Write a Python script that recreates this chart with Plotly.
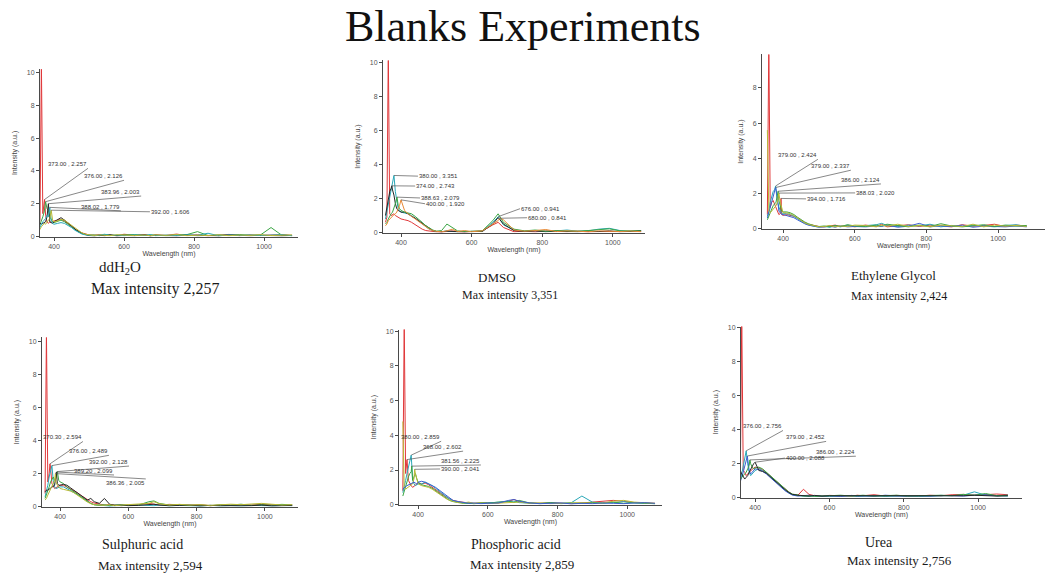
import plotly.graph_objects as go

W, H = 1045, 575

# Shared wavelength grid for all spectra (nm)
WL = [356, 360, 364, 368, 372, 376, 380, 384, 388, 392, 396, 400,
      410, 420, 430, 440, 450, 460, 470, 480, 490, 500,
      515, 530, 545, 560, 580, 600,
      630, 660, 675, 690, 720, 750, 780, 810, 840, 870, 900, 930, 960, 990, 1020, 1050, 1080]

# ---------------- ddH2O ----------------
ddh2o_series = [
    [0.6, 1.0, 10.6, 1.4, 2.0, 1.3, 0.9, 0.8, 0.9, 0.85, 0.9, 0.95,
     1.0, 1.05, 0.95, 0.8, 0.6, 0.45, 0.3, 0.22, 0.15, 0.1,
     0.08, 0.12, 0.06, 0.1, 0.05, 0.14,
     0.08, 0.12, 0.05, 0.1, 0.07, 0.15, 0.06, 0.11, 0.04, 0.09, 0.13, 0.05, 0.1, 0.06, 0.08, 0.12, 0.07],
    [0.5, 0.7, 0.9, 1.2, 1.5, 2.0, 1.7, 1.6, 1.2, 1.0, 0.9, 0.85,
     0.95, 1.0, 0.9, 0.75, 0.55, 0.4, 0.28, 0.18, 0.12, 0.08,
     0.1, 0.05, 0.12, 0.08, 0.06, 0.1,
     0.12, 0.06, 0.1, 0.08, 0.05, 0.1, 0.12, 0.3, 0.06, 0.1, 0.07, 0.12, 0.08, 0.1, 0.55, 0.09, 0.05],
    [0.7, 0.8, 0.75, 0.8, 0.85, 0.9, 1.2, 1.5, 0.9, 0.85, 0.8, 0.9,
     1.0, 1.15, 1.0, 0.85, 0.65, 0.45, 0.3, 0.2, 0.12, 0.06,
     0.04, 0.08, 0.05, 0.1, 0.04, 0.07,
     0.05, 0.1, 0.04, 0.08, 0.06, 0.04, 0.09, 0.05, 0.07, 0.04, 0.1, 0.06, 0.05, 0.08, 0.06, 0.04, 0.07],
    [0.4, 0.6, 0.8, 0.9, 1.0, 1.1, 1.3, 1.2, 1.5, 1.0, 0.8, 0.75,
     0.8, 0.85, 0.8, 0.7, 0.55, 0.38, 0.25, 0.15, 0.1, 0.07,
     0.05, 0.09, 0.14, 0.06, 0.1, 0.05,
     0.1, 0.07, 0.12, 0.05, 0.09, 0.06, 0.1, 0.08, 0.2, 0.05, 0.1, 0.07, 0.09, 0.06, 0.1, 0.12, 0.05],
    [0.3, 0.5, 0.6, 0.7, 0.8, 0.75, 0.9, 1.0, 1.1, 1.3, 1.0, 0.9,
     0.95, 1.05, 1.0, 0.85, 0.7, 0.5, 0.35, 0.22, 0.14, 0.09,
     0.06, 0.1, 0.07, 0.05, 0.11, 0.08,
     0.06, 0.09, 0.05, 0.1, 0.07, 0.12, 0.05, 0.08, 0.06, 0.1, 0.05, 0.09, 0.07, 0.11, 0.06, 0.08, 0.1],
]
ddh2o_peaks = [(0, 373.00, 2.257), (1, 376.00, 2.126), (2, 383.96, 2.003),
               (3, 388.02, 1.779), (4, 392.00, 1.606)]

# ---------------- DMSO ----------------
dmso_series = [
    [0.6, 0.9, 10.6, 1.1, 1.0, 1.05, 1.1, 1.0, 0.95, 0.9, 0.85, 0.8,
     0.75, 0.7, 0.6, 0.45, 0.3, 0.2, 0.12, 0.08, 0.05, 0.04,
     0.03, 0.05, 0.1, 0.05, 0.03, 0.06,
     0.1, 0.45, 0.6, 0.3, 0.05, 0.08, 0.04, 0.1, 0.06, 0.05, 0.08, 0.04, 0.06, 0.05, 0.07, 0.04, 0.06],
    [0.8, 1.2, 1.6, 2.2, 2.6, 3.0, 3.2, 2.4, 1.8, 1.4, 1.3, 1.2,
     1.15, 1.1, 1.0, 0.85, 0.7, 0.5, 0.35, 0.2, 0.12, 0.06,
     0.05, 0.1, 0.06, 0.04, 0.08, 0.05,
     0.08, 0.6, 0.9, 0.45, 0.15, 0.08, 0.12, 0.06, 0.1, 0.15, 0.08, 0.1, 0.2, 0.25, 0.12, 0.08, 0.1],
    [1.0, 1.5, 2.0, 2.4, 2.6, 2.5, 2.2, 1.7, 1.4, 1.3, 1.25, 1.2,
     1.2, 1.1, 0.95, 0.85, 0.7, 0.55, 0.38, 0.22, 0.12, 0.07,
     0.05, 0.08, 0.05, 0.06, 0.04, 0.07,
     0.06, 0.5, 0.88, 0.5, 0.12, 0.06, 0.1, 0.05, 0.08, 0.06, 0.05, 0.08, 0.06, 0.1, 0.05, 0.07, 0.12],
    [0.5, 0.6, 0.8, 1.0, 1.1, 1.2, 1.4, 1.7, 2.0, 1.6, 1.4, 1.3,
     1.2, 1.15, 1.1, 0.95, 0.8, 0.6, 0.4, 0.25, 0.15, 0.08,
     0.12, 0.5, 0.3, 0.1, 0.06, 0.09,
     0.1, 0.7, 1.1, 0.6, 0.2, 0.1, 0.15, 0.08, 0.12, 0.1, 0.08, 0.12, 0.15, 0.22, 0.1, 0.08, 0.1],
    [0.4, 0.5, 0.7, 0.8, 0.9, 1.0, 1.05, 1.1, 1.2, 1.4, 1.6, 1.8,
     1.3, 1.1, 0.95, 0.8, 0.6, 0.45, 0.3, 0.2, 0.12, 0.07,
     0.05, 0.1, 0.2, 0.06, 0.12, 0.05,
     0.1, 0.5, 0.7, 0.75, 0.15, 0.08, 0.12, 0.18, 0.06, 0.1, 0.08, 0.05, 0.1, 0.08, 0.06, 0.09, 0.05],
]
dmso_peaks = [(1, 380.00, 3.351), (2, 374.00, 2.743), (3, 388.63, 2.079),
              (4, 400.00, 1.920), (1, 676.00, 0.941), (4, 680.00, 0.841)]

# ---------------- Ethylene Glycol ----------------
eg_series = [
    [0.8, 10.6, 1.2, 1.5, 1.6, 1.4, 1.2, 0.9, 0.8, 0.85, 0.8, 0.75,
     0.8, 0.75, 0.7, 0.6, 0.45, 0.35, 0.25, 0.2, 0.15, 0.12,
     0.1, 0.15, 0.2, 0.12, 0.18, 0.1,
     0.2, 0.12, 0.25, 0.1, 0.18, 0.22, 0.12, 0.2, 0.15, 0.1, 0.22, 0.14, 0.18, 0.25, 0.12, 0.2, 0.15],
    [0.7, 1.0, 1.5, 1.8, 2.1, 2.2, 2.3, 1.5, 1.2, 1.0, 0.9, 0.85,
     0.85, 0.8, 0.7, 0.55, 0.4, 0.3, 0.22, 0.16, 0.12, 0.1,
     0.12, 0.08, 0.15, 0.1, 0.2, 0.12,
     0.15, 0.22, 0.3, 0.18, 0.12, 0.2, 0.15, 0.25, 0.1, 0.18, 0.12, 0.2, 0.15, 0.1, 0.18, 0.22, 0.12],
    [0.6, 0.9, 1.2, 1.6, 1.9, 2.1, 2.2, 1.8, 1.0, 0.9, 0.8, 0.8,
     0.75, 0.7, 0.62, 0.5, 0.38, 0.28, 0.2, 0.15, 0.1, 0.08,
     0.1, 0.14, 0.08, 0.16, 0.1, 0.12,
     0.1, 0.15, 0.12, 0.2, 0.08, 0.14, 0.3, 0.1, 0.16, 0.12, 0.2, 0.08, 0.14, 0.12, 0.1, 0.15, 0.1],
    [0.5, 0.7, 1.0, 1.2, 1.3, 1.4, 1.5, 1.9, 1.6, 1.2, 1.0, 0.95,
     0.95, 0.9, 0.8, 0.65, 0.5, 0.38, 0.28, 0.2, 0.15, 0.12,
     0.15, 0.1, 0.18, 0.12, 0.22, 0.15,
     0.12, 0.2, 0.15, 0.25, 0.18, 0.1, 0.2, 0.12, 0.28, 0.15, 0.1, 0.18, 0.22, 0.12, 0.2, 0.15, 0.18],
    [5.6, 1.0, 0.9, 1.0, 1.1, 1.2, 1.3, 1.5, 1.8, 1.5, 1.1, 0.9,
     0.9, 0.85, 0.75, 0.6, 0.45, 0.33, 0.24, 0.18, 0.13, 0.1,
     0.12, 0.18, 0.1, 0.15, 0.12, 0.2,
     0.18, 0.1, 0.2, 0.14, 0.25, 0.12, 0.18, 0.1, 0.2, 0.16, 0.12, 0.25, 0.1, 0.2, 0.14, 0.18, 0.12],
]
eg_peaks = [(1, 379.00, 2.424), (2, 379.00, 2.337), (3, 386.00, 2.124),
            (4, 388.03, 2.020), (0, 394.00, 1.716)]

# ---------------- Sulphuric acid ----------------
sulph_series = [
    [0.8, 10.6, 1.5, 2.0, 2.4, 1.4, 1.2, 1.1, 1.15, 1.2, 1.25, 1.3,
     1.3, 1.2, 1.1, 1.0, 0.85, 0.7, 0.55, 0.4, 0.3, 0.22,
     0.15, 0.1, 0.12, 0.08, 0.06, 0.1,
     0.12, 0.2, 0.15, 0.1, 0.14, 0.1, 0.08, 0.12, 0.06, 0.1, 0.08, 0.12, 0.1, 0.15, 0.12, 0.08, 0.1],
    [0.6, 0.9, 1.3, 1.8, 2.2, 2.3, 1.6, 1.2, 1.1, 1.15, 1.2, 1.2,
     1.2, 1.1, 1.0, 0.9, 0.75, 0.6, 0.45, 0.3, 0.2, 0.12,
     0.08, 0.05, 0.04, 0.06, 0.05, 0.08,
     0.1, 0.08, 0.06, 0.1, 0.05, 0.08, 0.06, 0.04, 0.08, 0.05, 0.07, 0.05, 0.08, 0.06, 0.05, 0.07, 0.06],
    [0.5, 0.7, 0.9, 1.2, 1.5, 1.7, 1.8, 1.6, 1.7, 1.9, 1.6, 1.5,
     1.4, 1.2, 1.05, 0.95, 0.8, 0.6, 0.45, 0.3, 0.2, 0.12,
     0.08, 0.12, 0.06, 0.1, 0.12, 0.08,
     0.1, 0.3, 0.35, 0.2, 0.1, 0.12, 0.08, 0.1, 0.06, 0.12, 0.1, 0.15, 0.08, 0.12, 0.1, 0.14, 0.1],
    [0.9, 1.0, 1.0, 1.05, 1.1, 1.15, 1.2, 1.3, 1.6, 1.4, 1.3, 1.3,
     1.35, 1.3, 1.15, 1.0, 0.85, 0.7, 0.55, 0.4, 0.5, 0.3,
     0.2, 0.5, 0.15, 0.08, 0.1, 0.06,
     0.08, 0.12, 0.15, 0.1, 0.06, 0.08, 0.1, 0.05, 0.08, 0.06, 0.05, 0.08, 0.06, 0.1, 0.05, 0.06, 0.08],
    [0.4, 0.5, 0.7, 0.9, 1.0, 1.2, 1.4, 1.6, 1.5, 1.3, 1.2, 1.1,
     1.05, 1.0, 0.95, 0.85, 0.7, 0.55, 0.4, 0.28, 0.18, 0.12,
     0.1, 0.08, 0.12, 0.06, 0.1, 0.12,
     0.15, 0.2, 0.3, 0.18, 0.1, 0.14, 0.1, 0.12, 0.08, 0.1, 0.15, 0.12, 0.18, 0.2, 0.15, 0.1, 0.12],
]
sulph_peaks = [(0, 370.30, 2.594), (1, 376.00, 2.489), (2, 392.00, 2.128),
               (3, 389.20, 2.099), (4, 386.36, 2.005)]

# ---------------- Phosphoric acid ----------------
phos_series = [
    [0.8, 10.6, 1.8, 2.4, 1.4, 1.2, 1.1, 1.0, 1.05, 1.1, 1.2, 1.25,
     1.2, 1.25, 1.15, 1.0, 0.9, 0.75, 0.6, 0.45, 0.35, 0.25,
     0.18, 0.12, 0.1, 0.08, 0.1, 0.12,
     0.1, 0.2, 0.3, 0.18, 0.1, 0.08, 0.12, 0.1, 0.06, 0.1, 0.15, 0.2, 0.25, 0.2, 0.12, 0.1, 0.08],
    [0.7, 1.0, 1.4, 1.8, 2.2, 2.5, 2.6, 1.5, 1.2, 1.1, 1.15, 1.2,
     1.2, 1.3, 1.2, 1.1, 0.95, 0.8, 0.6, 0.45, 0.32, 0.22,
     0.15, 0.1, 0.08, 0.06, 0.08, 0.1,
     0.12, 0.15, 0.2, 0.12, 0.08, 0.06, 0.1, 0.08, 0.12, 0.5, 0.15, 0.08, 0.12, 0.18, 0.1, 0.08, 0.06],
    [0.5, 0.8, 1.0, 1.3, 1.6, 1.8, 1.9, 1.4, 1.6, 1.8, 1.5, 1.3,
     1.15, 1.1, 1.05, 0.95, 0.8, 0.65, 0.5, 0.38, 0.25, 0.18,
     0.12, 0.08, 0.1, 0.06, 0.12, 0.08,
     0.15, 0.2, 0.12, 0.25, 0.1, 0.08, 0.12, 0.06, 0.1, 0.08, 0.12, 0.1, 0.15, 0.08, 0.12, 0.1, 0.06],
    [4.8, 1.0, 0.9, 0.95, 1.0, 1.05, 1.1, 1.2, 1.5, 1.8, 1.4, 1.2,
     1.1, 1.05, 1.0, 0.9, 0.75, 0.6, 0.45, 0.35, 0.25, 0.18,
     0.12, 0.1, 0.15, 0.08, 0.1, 0.06,
     0.08, 0.12, 0.1, 0.15, 0.08, 0.1, 0.06, 0.08, 0.1, 0.12, 0.08, 0.1, 0.2, 0.25, 0.15, 0.1, 0.08],
    [0.9, 1.0, 1.05, 1.1, 1.15, 1.2, 1.2, 1.25, 1.3, 1.25, 1.2, 1.3,
     1.35, 1.3, 1.2, 1.1, 1.0, 0.85, 0.7, 0.5, 0.35, 0.25,
     0.18, 0.12, 0.08, 0.1, 0.06, 0.08,
     0.1, 0.25, 0.3, 0.2, 0.1, 0.06, 0.08, 0.1, 0.05, 0.08, 0.06, 0.1, 0.08, 0.06, 0.1, 0.12, 0.08],
]
phos_peaks = [(1, 380.00, 2.859), (0, 368.00, 2.602), (2, 381.56, 2.225), (3, 390.00, 2.041)]

# ---------------- Urea ----------------
urea_series = [
    [0.5, 0.8, 10.6, 1.6, 1.5, 1.3, 1.4, 1.5, 1.6, 1.7, 1.75, 1.8,
     1.75, 1.65, 1.5, 1.3, 1.1, 0.9, 0.7, 0.5, 0.35, 0.2,
     0.15, 0.5, 0.2, 0.12, 0.1, 0.14,
     0.12, 0.1, 0.15, 0.12, 0.18, 0.1, 0.14, 0.12, 0.1, 0.15, 0.12, 0.18, 0.2, 0.15, 0.2, 0.22, 0.18],
    [0.8, 1.0, 1.4, 1.9, 2.3, 2.5, 2.0, 1.5, 1.3, 1.4, 1.5, 1.6,
     1.7, 1.6, 1.45, 1.25, 1.05, 0.85, 0.65, 0.45, 0.3, 0.18,
     0.12, 0.1, 0.08, 0.12, 0.1, 0.08,
     0.1, 0.12, 0.08, 0.1, 0.12, 0.08, 0.1, 0.12, 0.08, 0.1, 0.12, 0.1, 0.15, 0.35, 0.15, 0.12, 0.1],
    [0.7, 0.9, 1.2, 1.5, 1.8, 2.1, 2.3, 1.6, 1.4, 1.5, 1.6, 1.7,
     1.65, 1.55, 1.4, 1.2, 1.0, 0.8, 0.6, 0.42, 0.28, 0.16,
     0.1, 0.12, 0.15, 0.1, 0.08, 0.12,
     0.08, 0.14, 0.1, 0.12, 0.08, 0.15, 0.1, 0.08, 0.12, 0.1, 0.14, 0.12, 0.1, 0.15, 0.18, 0.12, 0.15],
    [0.9, 1.1, 1.2, 1.3, 1.4, 1.5, 1.7, 1.9, 2.0, 1.8, 1.7, 1.75,
     1.8, 1.7, 1.5, 1.3, 1.1, 0.9, 0.7, 0.5, 0.35, 0.22,
     0.15, 0.1, 0.12, 0.08, 0.1, 0.12,
     0.15, 0.1, 0.12, 0.15, 0.1, 0.12, 0.15, 0.1, 0.12, 0.1, 0.15, 0.12, 0.2, 0.15, 0.25, 0.12, 0.15],
    [1.5, 1.6, 1.4, 1.2, 1.1, 1.2, 1.3, 1.5, 1.7, 1.9, 2.0, 2.0,
     1.6, 1.55, 1.45, 1.25, 1.05, 0.85, 0.65, 0.48, 0.32, 0.2,
     0.15, 0.12, 0.1, 0.14, 0.1, 0.12,
     0.12, 0.1, 0.14, 0.12, 0.1, 0.14, 0.12, 0.1, 0.14, 0.12, 0.1, 0.14, 0.12, 0.15, 0.12, 0.1, 0.12],
]
urea_peaks = [(1, 376.00, 2.756), (2, 379.00, 2.452), (3, 386.00, 2.224), (4, 400.00, 2.088)]

titles = ["ddH<sub>2</sub>O", "DMSO", "Ethylene Glycol", "Sulphuric acid", "Phosphoric acid", "Urea"]
max_texts = ["Max intensity 2,257", "Max intensity 3,351", "Max intensity 2,424",
             "Max intensity 2,594", "Max intensity 2,859", "Max intensity 2,756"]

RED, GREEN, BLACK, TEAL, BLUE, OLIVE, ORANGE = (
    "#e0383a", "#3aa544", "#262626", "#2aa8b8", "#3b5fcf", "#b9b936", "#e88a36")

panels = [
    dict(series=ddh2o_series, peaks=ddh2o_peaks, colors=[RED, GREEN, BLACK, TEAL, OLIVE],
         box=(40, 298, 236, 67), xr=(360, 1097), ytop=10.2, yt=[0, 2, 4, 6, 8, 10],
         lab=[(497, 4.16, "A"), (600, 3.43, "A"), (649, 2.47, "A"), (591, 1.57, "A"), (674, 1.51, "R")],
         cap=(120, 268, 15), mx=(155, 289, 16)),
    dict(series=dmso_series, peaks=dmso_peaks, colors=[RED, TEAL, BLACK, GREEN, ORANGE],
         box=(383, 645, 232, 58), xr=(349, 1091), ytop=10.1, yt=[0, 2, 4, 6, 8, 10],
         lab=[(448, 3.31, "R"), (440, 2.73, "R"), (454, 2.03, "R"), (468, 1.69, "R"),
              (737, 1.40, "R"), (757, 0.87, "R")],
         cap=(497, 277, 13), mx=(510, 295, 12)),
    dict(series=eg_series, peaks=eg_peaks, colors=[RED, TEAL, BLUE, GREEN, OLIVE],
         box=(762, 1045, 228, 52), xr=(341, 1131), ytop=9.9, yt=[0, 2, 4, 6, 8],
         lab=[(497, 3.94, "A"), (589, 3.32, "A"), (673, 2.54, "A"), (601, 2.03, "R"), (464, 1.69, "R")],
         cap=(893, 275, 13), mx=(899, 296, 12)),
    dict(series=sulph_series, peaks=sulph_peaks, colors=[RED, TEAL, GREEN, BLACK, OLIVE],
         box=(42, 298, 509, 338), xr=(347, 1097), ytop=10.25, yt=[0, 2, 4, 6, 8, 10],
         lab=[(467, 3.95, "A"), (543, 3.11, "A"), (602, 2.46, "A"), (558, 1.92, "A"), (651, 1.68, "B")],
         cap=(142, 547, 14), mx=(150, 568, 13)),
    dict(series=phos_series, peaks=phos_peaks, colors=[RED, TEAL, GREEN, OLIVE, BLUE],
         box=(399, 662, 507, 330), xr=(345, 1100), ytop=10.1, yt=[0, 2, 4, 6, 8, 10],
         lab=[(466, 3.66, "A"), (529, 3.09, "A"), (580, 2.29, "A"), (463, 2.06, "R")],
         cap=(516, 547, 14), mx=(522, 567, 13)),
    dict(series=urea_series, peaks=urea_peaks, colors=[RED, TEAL, BLUE, GREEN, BLACK],
         box=(741, 1022, 500, 327), xr=(362, 1118), ytop=10.05, yt=[0, 2, 4, 6, 8, 10],
         lab=[(475, 3.95, "A"), (591, 3.31, "A"), (671, 2.44, "A"), (480, 2.33, "R")],
         cap=(879, 545, 14), mx=(899, 563, 13)),
]


def with_peaks(values, peaks, si):
    pts = list(zip(WL, values))
    for s, w, v in peaks:
        if s == si:
            pts = [p for p in pts if abs(p[0] - w) >= 1.5]
            pts.append((w, v))
    pts.sort()
    return [p[0] for p in pts], [p[1] for p in pts]


fig = go.Figure()
annotations = []
layout_axes = {}
AXIS_COLOR = "#4a4a4a"
SERIF = "Liberation Serif, Times New Roman, serif"
SANS = "Liberation Sans, Arial, sans-serif"

for i, p in enumerate(panels, start=1):
    xa, ya = f"x{i}", f"y{i}"
    x0, x1, yb, ytp = p["box"]
    for si, vals in enumerate(p["series"]):
        xs, ys = with_peaks(vals, p["peaks"], si)
        fig.add_trace(go.Scatter(x=xs, y=ys, mode="lines", xaxis=xa, yaxis=ya,
                                 line=dict(color=p["colors"][si], width=1),
                                 hoverinfo="skip", showlegend=False))
    # peak labels with leader lines
    for (si, w, v), (ex, ey, side) in zip(p["peaks"], p["lab"]):
        fig.add_trace(go.Scatter(x=[w, ex], y=[v, ey], mode="lines", xaxis=xa, yaxis=ya,
                                 line=dict(color="#555555", width=0.7),
                                 hoverinfo="skip", showlegend=False))
        if side == "A":
            xan, yan = "right", "bottom"
        elif side == "B":
            xan, yan = "right", "top"
        else:
            xan, yan = "left", "middle"
        annotations.append(dict(x=ex, y=ey, xref=xa, yref=ya, text=f"{w:.2f} , {v:.3f}",
                                showarrow=False, xanchor=xan, yanchor=yan, borderpad=0,
                                font=dict(family=SANS, size=6, color="#333333")))
    suffix = "" if i == 1 else str(i)
    layout_axes["xaxis" + suffix] = dict(
        domain=[x0 / W, x1 / W], range=list(p["xr"]), anchor=ya,
        showline=True, linecolor=AXIS_COLOR, linewidth=1, mirror=False,
        ticks="outside", ticklen=3, tickcolor=AXIS_COLOR, tickvals=[400, 600, 800, 1000],
        tickfont=dict(family=SANS, size=7, color="#555555"),
        showgrid=False, zeroline=False,
        title=dict(text="Wavelength (nm)", font=dict(family=SANS, size=7, color="#444444"), standoff=1))
    layout_axes["yaxis" + suffix] = dict(
        domain=[1 - yb / H, 1 - ytp / H], range=[0, p["ytop"]], anchor=xa,
        showline=True, linecolor=AXIS_COLOR, linewidth=1,
        ticks="outside", ticklen=3, tickcolor=AXIS_COLOR, tickvals=p["yt"],
        tickfont=dict(family=SANS, size=7, color="#555555"),
        showgrid=False, zeroline=False,
        title=dict(text="Intensity (a.u.)", font=dict(family=SANS, size=7, color="#444444"), standoff=8))
    cx, cy, cs = p["cap"]
    annotations.append(dict(x=cx / W, y=1 - cy / H, xref="paper", yref="paper", text=titles[i - 1],
                            showarrow=False, xanchor="center", yanchor="middle",
                            font=dict(family=SERIF, size=cs, color="#1a1a1a")))
    mxx, mxy, mxs = p["mx"]
    annotations.append(dict(x=mxx / W, y=1 - mxy / H, xref="paper", yref="paper", text=max_texts[i - 1],
                            showarrow=False, xanchor="center", yanchor="middle",
                            font=dict(family=SERIF, size=mxs, color="#1a1a1a")))

annotations.append(dict(x=0.5, y=1 - 24 / H, xref="paper", yref="paper", text="Blanks Experiments",
                        showarrow=False, xanchor="center", yanchor="middle",
                        font=dict(family=SERIF, size=44, color="#111111")))

fig.update_layout(width=W, height=H, margin=dict(l=0, r=0, t=0, b=0),
                  paper_bgcolor="white", plot_bgcolor="white", showlegend=False,
                  annotations=annotations, **layout_axes)

fig.write_html("out.html")
